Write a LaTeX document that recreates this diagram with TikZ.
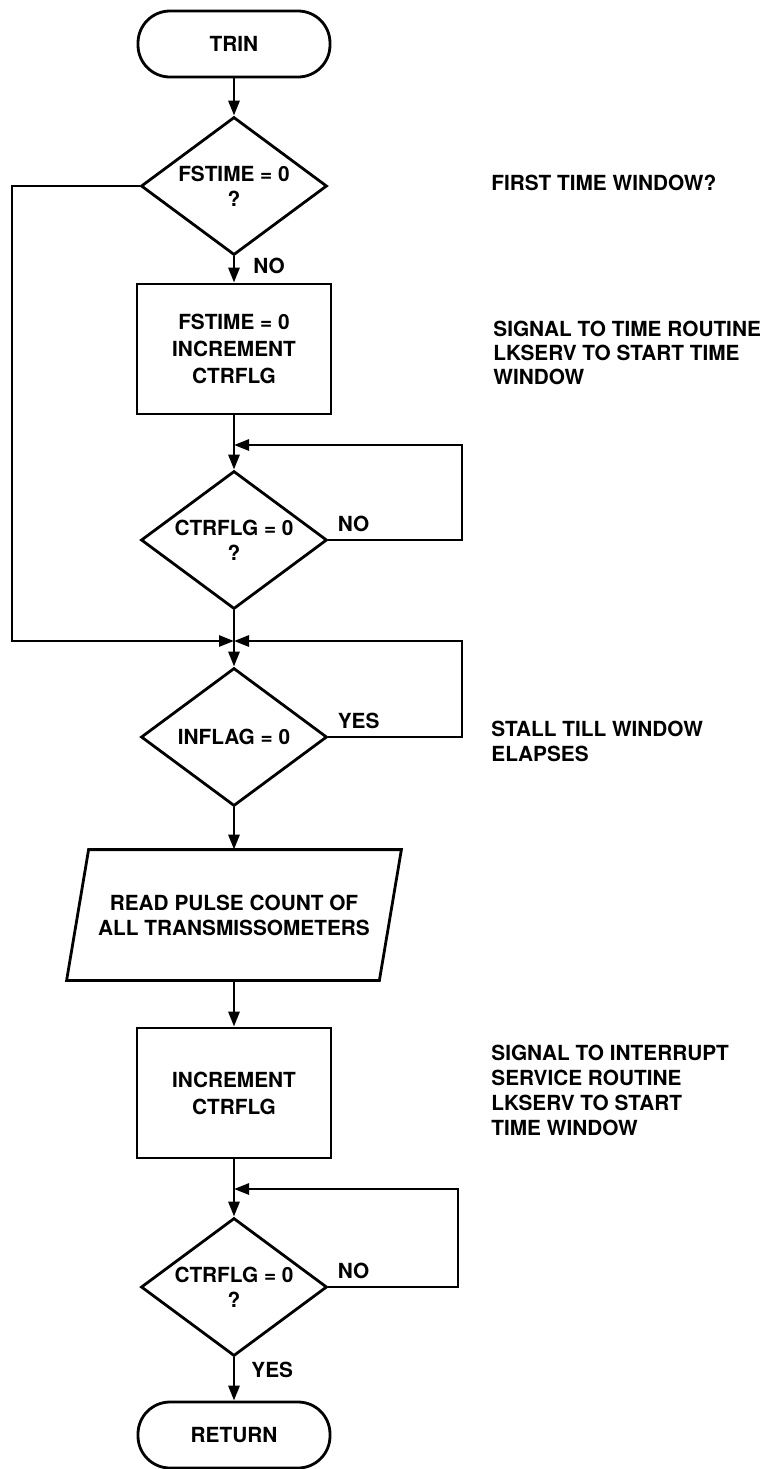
\documentclass[tikz,border=0pt]{standalone}
\usepackage{fontspec}
\setmainfont{TeX Gyre Heros}
\usetikzlibrary{shapes.geometric,arrows.meta}

\begin{document}
\begin{tikzpicture}[x=0.5pt,y=-0.5pt,
        line width=1.4pt,
        >={Triangle[length=7.5pt,width=5.5pt]},
        every node/.style={font=\bfseries\fontsize{10.4}{12.5}\selectfont, align=center},
        term/.style={draw, rectangle, rounded corners=16pt, minimum width=96pt, minimum height=33pt},
        procbox/.style={draw, rectangle, minimum width=97pt, minimum height=65pt,
            font=\bfseries\fontsize{10.4}{13.5}\selectfont},
        decide/.style={draw, diamond, aspect=1.35, inner sep=0pt, minimum width=93pt, minimum height=69pt},
        iobox/.style={rectangle, minimum width=155pt, minimum height=64pt},
        lbl/.style={inner sep=0pt},
        note/.style={anchor=west, align=left, inner sep=0pt}]
        \useasboundingbox (0,0) rectangle (776,1469);

        % 主流程
        \node[term] (trin) at (234,44) {TRIN};
        \node[decide] (fstime) at (234,186) {FSTIME = 0\\?};
        \node[procbox] (setflg) at (234,349) {FSTIME = 0\\INCREMENT\\CTRFLG};
        \coordinate (joina) at (234,445);
        \node[decide] (ctrwait) at (234,540) {CTRFLG = 0\\?};
        \coordinate (joinb) at (234,641);
        \node[decide] (inflag) at (234,737) {INFLAG = 0};
        \node[iobox] (readcnt) at (234,915) {READ PULSE COUNT OF\\ALL TRANSMISSOMETERS};
        % 平行四边形
        \draw ([xshift=5.5pt]readcnt.north west) -- ([xshift=5.5pt]readcnt.north east)
            -- ([xshift=-5.5pt]readcnt.south east) -- ([xshift=-5.5pt]readcnt.south west) -- cycle;
        \node[procbox] (incflg) at (234,1093) {INCREMENT\\CTRFLG};
        \coordinate (joinc) at (234,1189);
        \node[decide] (ctrdone) at (234,1287) {CTRFLG = 0\\?};
        \node[term] (ret) at (234,1435) {RETURN};

        % 右侧说明
        \node[note] (firstnote) at (490,183) {FIRST TIME WINDOW?};
        \node[note, font=\bfseries\fontsize{10.4}{11.8}\selectfont] (startnote) at (492,353)
            {SIGNAL TO TIME ROUTINE\\LKSERV TO START TIME\\WINDOW};
        \node[note] (stallnote) at (490,741) {STALL TILL WINDOW\\ELAPSES};
        \node[note] (intnote) at (490,1090)
            {SIGNAL TO INTERRUPT\\SERVICE ROUTINE\\LKSERV TO START\\TIME WINDOW};

        % 连线
        \draw[->] (trin) -- (fstime);
        \draw[->] (fstime) -- node[lbl, anchor=west, xshift=9pt, pos=0.35] {NO} (setflg);
        \draw (setflg) -- (joina);
        \draw[->] (joina) -- (ctrwait);
        \draw[->] (ctrwait.east) -| node[lbl, anchor=south west, pos=0, xshift=4pt, yshift=3.5pt] {NO}
            ([xshift=114pt]joina) -- (joina);
        \draw (ctrwait) -- (joinb);
        \draw[->] (fstime.west) -| ([xshift=-111pt]joinb) -- (joinb);
        \draw[->] (inflag.east) -| node[lbl, anchor=south west, pos=0, xshift=4pt, yshift=3.5pt] {YES}
            ([xshift=114pt]joinb) -- (joinb);
        \draw[->] (joinb) -- (inflag);
        \draw[->] (inflag) -- (readcnt);
        \draw[->] (readcnt) -- (incflg);
        \draw (incflg) -- (joinc);
        \draw[->] (joinc) -- (ctrdone);
        \draw[->] (ctrdone.east) -| node[lbl, anchor=south west, pos=0, xshift=4pt, yshift=3.5pt] {NO}
            ([xshift=112pt]joinc) -- (joinc);
        \draw[->] (ctrdone) -- node[lbl, anchor=west, xshift=8pt, pos=0.3] {YES} (ret);
\end{tikzpicture}
\end{document}
